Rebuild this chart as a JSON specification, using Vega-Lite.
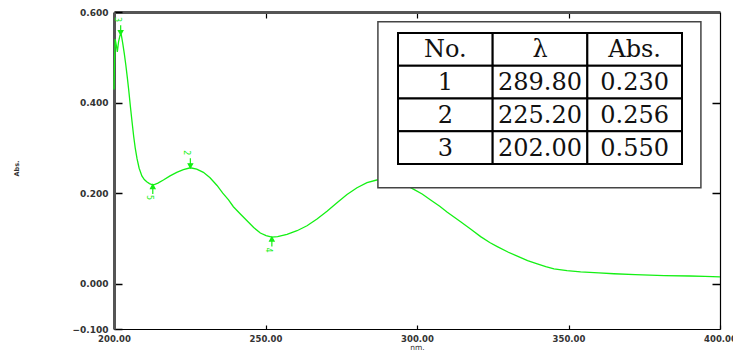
{
  "$schema": "https://vega.github.io/schema/vega-lite/v6.json",
  "width": 606,
  "height": 317,
  "autosize": {"type": "none"},
  "padding": {"left": 114, "top": 12, "right": 13, "bottom": 21},
  "background": "white",
  "config": {"view": {"stroke": null}},
  "datasets": {
    "spectrum": [
      {"nm": 200.0, "abs": 0.429}, {"nm": 200.2, "abs": 0.500}, {"nm": 200.4, "abs": 0.540},
      {"nm": 200.8, "abs": 0.525}, {"nm": 201.1, "abs": 0.512}, {"nm": 201.5, "abs": 0.534},
      {"nm": 202.0, "abs": 0.549}, {"nm": 202.4, "abs": 0.550}, {"nm": 202.9, "abs": 0.530},
      {"nm": 203.4, "abs": 0.508}, {"nm": 203.9, "abs": 0.483}, {"nm": 204.4, "abs": 0.455},
      {"nm": 204.9, "abs": 0.425}, {"nm": 205.4, "abs": 0.392}, {"nm": 206.0, "abs": 0.355},
      {"nm": 206.5, "abs": 0.325}, {"nm": 207.0, "abs": 0.300}, {"nm": 207.6, "abs": 0.276},
      {"nm": 208.3, "abs": 0.255}, {"nm": 209.2, "abs": 0.238}, {"nm": 210.0, "abs": 0.230},
      {"nm": 210.8, "abs": 0.225}, {"nm": 211.7, "abs": 0.221}, {"nm": 212.5, "abs": 0.219},
      {"nm": 213.3, "abs": 0.219}, {"nm": 214.5, "abs": 0.222}, {"nm": 216.3, "abs": 0.229},
      {"nm": 218.5, "abs": 0.238}, {"nm": 220.7, "abs": 0.246}, {"nm": 222.9, "abs": 0.252},
      {"nm": 225.2, "abs": 0.256}, {"nm": 227.3, "abs": 0.253}, {"nm": 229.5, "abs": 0.246},
      {"nm": 231.7, "abs": 0.234}, {"nm": 234.0, "abs": 0.217}, {"nm": 235.9, "abs": 0.200},
      {"nm": 237.8, "abs": 0.185}, {"nm": 239.4, "abs": 0.170}, {"nm": 241.7, "abs": 0.154},
      {"nm": 243.9, "abs": 0.139}, {"nm": 246.1, "abs": 0.124}, {"nm": 248.3, "abs": 0.112},
      {"nm": 250.2, "abs": 0.106}, {"nm": 252.1, "abs": 0.103}, {"nm": 254.0, "abs": 0.104},
      {"nm": 257.1, "abs": 0.109}, {"nm": 260.4, "abs": 0.117}, {"nm": 263.7, "abs": 0.128},
      {"nm": 267.0, "abs": 0.143}, {"nm": 270.3, "abs": 0.160}, {"nm": 273.6, "abs": 0.179},
      {"nm": 276.9, "abs": 0.197}, {"nm": 280.2, "abs": 0.212}, {"nm": 283.5, "abs": 0.223},
      {"nm": 286.7, "abs": 0.229}, {"nm": 289.8, "abs": 0.230}, {"nm": 292.8, "abs": 0.228},
      {"nm": 295.8, "abs": 0.220}, {"nm": 298.8, "abs": 0.209}, {"nm": 301.7, "abs": 0.198},
      {"nm": 304.5, "abs": 0.185}, {"nm": 307.5, "abs": 0.171}, {"nm": 310.0, "abs": 0.158},
      {"nm": 314.4, "abs": 0.137}, {"nm": 318.0, "abs": 0.119}, {"nm": 321.0, "abs": 0.104},
      {"nm": 324.0, "abs": 0.091}, {"nm": 326.5, "abs": 0.082}, {"nm": 330.0, "abs": 0.070},
      {"nm": 333.1, "abs": 0.061}, {"nm": 336.5, "abs": 0.051}, {"nm": 339.7, "abs": 0.044},
      {"nm": 342.5, "abs": 0.038}, {"nm": 345.2, "abs": 0.033}, {"nm": 349.5, "abs": 0.029},
      {"nm": 354.0, "abs": 0.026}, {"nm": 360.0, "abs": 0.024}, {"nm": 365.0, "abs": 0.022},
      {"nm": 372.0, "abs": 0.020}, {"nm": 381.6, "abs": 0.018}, {"nm": 390.0, "abs": 0.017},
      {"nm": 395.0, "abs": 0.016}, {"nm": 400.0, "abs": 0.015}
    ],
    "peaks": [
      {"no": "1", "nm": 289.8, "abs": 0.230, "kind": "peak"},
      {"no": "2", "nm": 225.2, "abs": 0.256, "kind": "peak"},
      {"no": "3", "nm": 202.2, "abs": 0.550, "kind": "peak"},
      {"no": "4", "nm": 252.1, "abs": 0.103, "kind": "valley"},
      {"no": "5", "nm": 212.8, "abs": 0.219, "kind": "valley"}
    ],
    "cells": [
      {"r": "h", "c": "No.", "t": "No."}, {"r": "h", "c": "λ", "t": "λ"}, {"r": "h", "c": "Abs.", "t": "Abs."},
      {"r": "1", "c": "No.", "t": "1"}, {"r": "1", "c": "λ", "t": "289.80"}, {"r": "1", "c": "Abs.", "t": "0.230"},
      {"r": "2", "c": "No.", "t": "2"}, {"r": "2", "c": "λ", "t": "225.20"}, {"r": "2", "c": "Abs.", "t": "0.256"},
      {"r": "3", "c": "No.", "t": "3"}, {"r": "3", "c": "λ", "t": "202.00"}, {"r": "3", "c": "Abs.", "t": "0.550"}
    ]
  },
  "layer": [
    {
      "layer": [
        {
          "data": {"name": "spectrum"},
          "mark": {"type": "line", "color": "#14f014", "strokeWidth": 1.3},
          "encoding": {
            "x": {
              "field": "nm", "type": "quantitative",
              "scale": {"domain": [200, 400], "nice": false, "zero": false},
              "axis": {
                "orient": "bottom", "values": [200, 250, 300, 350, 400], "format": ".2f",
                "grid": false, "tickSize": -4, "tickWidth": 1.2, "tickColor": "#000",
                "domainColor": "#000", "domainWidth": 1.2,
                "labelFont": "DejaVu Sans", "labelFontWeight": "bold", "labelFontSize": 8.5,
                "labelColor": "#333", "labelPadding": 9, "labelFlush": false, "labelOverlap": false,
                "labelBaseline": "top",
                "title": "nm.", "titleFont": "DejaVu Sans", "titleFontSize": 7.5, "titleFontWeight": "normal",
                "titleColor": "#333", "titleY": 14, "titleBaseline": "top"
              }
            },
            "y": {
              "field": "abs", "type": "quantitative",
              "scale": {"domain": [-0.1, 0.6], "nice": false, "zero": false},
              "axis": {
                "orient": "left", "values": [-0.1, 0, 0.2, 0.4, 0.6], "format": ".3f",
                "grid": false, "tickSize": -8, "tickWidth": 1.5, "tickColor": "#000",
                "domainColor": "#555", "domainWidth": 3,
                "labelFont": "DejaVu Sans", "labelFontWeight": "bold", "labelFontSize": 9,
                "labelColor": "#333", "labelPadding": 14, "labelFlush": false, "labelOverlap": false,
                "title": "Abs.", "titleFont": "DejaVu Sans", "titleFontSize": 6.5, "titleFontWeight": "bold",
                "titleColor": "#333", "titleX": -98, "titleY": 156, "titleAngle": -90,
                "titleAlign": "center", "titleBaseline": "middle"
              }
            }
          }
        },
        {
          "data": {"name": "peaks"},
          "mark": {"type": "point", "filled": true, "color": "#14f014", "stroke": "#14f014", "strokeWidth": 1.2, "size": 81, "opacity": 1},
          "encoding": {
            "x": {"field": "nm", "type": "quantitative", "scale": {"domain": [200, 400], "nice": false, "zero": false}, "axis": null},
            "y": {"field": "abs", "type": "quantitative", "scale": {"domain": [-0.1, 0.6], "nice": false, "zero": false}, "axis": null},
            "shape": {
              "field": "kind", "type": "nominal",
              "scale": {"domain": ["peak", "valley"], "range": ["M0,-2.1L0,-0.5M-0.5,-0.9L0,0L0.5,-0.9Z", "M0,2.1L0,0.5M-0.5,0.9L0,0L0.5,0.9Z"]},
              "legend": null
            }
          }
        },
        {
          "data": {"name": "peaks"},
          "transform": [{"filter": "datum.kind === 'peak'"}],
          "mark": {"type": "text", "color": "#14f014", "font": "DejaVu Sans", "fontSize": 8, "angle": 90, "align": "center", "baseline": "middle", "dx": -15, "dy": 4},
          "encoding": {
            "x": {"field": "nm", "type": "quantitative", "scale": {"domain": [200, 400], "nice": false, "zero": false}, "axis": null},
            "y": {"field": "abs", "type": "quantitative", "scale": {"domain": [-0.1, 0.6], "nice": false, "zero": false}, "axis": null},
            "text": {"field": "no"}
          }
        },
        {
          "data": {"name": "peaks"},
          "transform": [{"filter": "datum.kind === 'valley'"}],
          "mark": {"type": "text", "color": "#14f014", "font": "DejaVu Sans", "fontSize": 8, "angle": 90, "align": "center", "baseline": "middle", "dx": 13, "dy": 4},
          "encoding": {
            "x": {"field": "nm", "type": "quantitative", "scale": {"domain": [200, 400], "nice": false, "zero": false}, "axis": null},
            "y": {"field": "abs", "type": "quantitative", "scale": {"domain": [-0.1, 0.6], "nice": false, "zero": false}, "axis": null},
            "text": {"field": "no"}
          }
        },
        {
          "data": {"values": [{"box": "peak table"}]},
          "mark": {"type": "rect", "fill": "white", "stroke": "#444", "strokeWidth": 1.5},
          "encoding": {
            "x": {
              "datum": 287.1, "type": "quantitative",
              "scale": {"domain": [200, 400], "nice": false, "zero": false},
              "axis": {
                "orient": "top", "values": [250, 300, 350], "labels": false, "grid": false,
                "tickSize": -6, "tickWidth": 1.2, "tickColor": "#000",
                "domainColor": "#555", "domainWidth": 3, "title": null
              }
            },
            "x2": {"datum": 393.7},
            "y": {
              "datum": 0.5785, "type": "quantitative",
              "scale": {"domain": [-0.1, 0.6], "nice": false, "zero": false},
              "axis": {
                "orient": "right", "values": [0, 0.2, 0.4], "labels": false, "grid": false,
                "tickSize": -8, "tickWidth": 1.5, "tickColor": "#000",
                "domainColor": "#000", "domainWidth": 1.2, "title": null
              }
            },
            "y2": {"datum": 0.212}
          }
        }
      ],
      "resolve": {"axis": {"x": "independent", "y": "independent"}}
    },
    {
      "data": {"name": "cells"},
      "encoding": {
        "x": {"field": "c", "type": "nominal", "scale": {"domain": ["No.", "λ", "Abs."], "range": [284, 568], "paddingInner": 0, "paddingOuter": 0}, "axis": null},
        "y": {"field": "r", "type": "nominal", "scale": {"domain": ["h", "1", "2", "3"], "range": [21, 152], "paddingInner": 0, "paddingOuter": 0}, "axis": null}
      },
      "layer": [
        {"mark": {"type": "rect", "fill": "white", "stroke": "#000", "strokeWidth": 2}},
        {
          "mark": {"type": "text", "font": "DejaVu Serif", "fontSize": 24, "color": "#111", "align": "center", "baseline": "middle", "dy": 1},
          "encoding": {"text": {"field": "t"}}
        }
      ]
    }
  ],
  "resolve": {"scale": {"x": "independent", "y": "independent"}}
}
